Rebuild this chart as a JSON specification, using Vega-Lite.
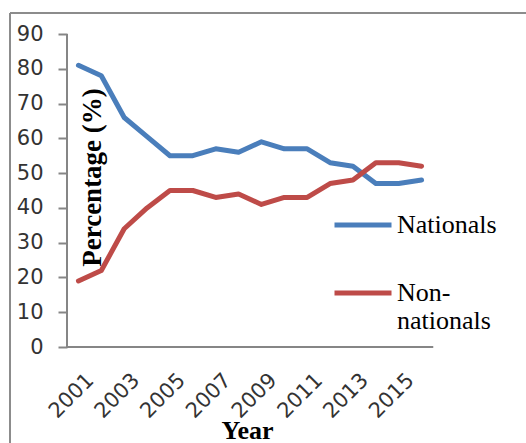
{
  "$schema": "https://vega.github.io/schema/vega-lite/v6.json",
  "autosize": {"type": "none"},
  "padding": {"left": 10, "top": 13, "right": 0, "bottom": 0},
  "width": 516,
  "height": 430,
  "background": "white",
  "config": {"view": {"stroke": null}},
  "data": {"values": [
    {"year": 2001, "group": "Nationals", "value": 81},
    {"year": 2002, "group": "Nationals", "value": 78},
    {"year": 2003, "group": "Nationals", "value": 66},
    {"year": 2004, "group": "Nationals", "value": 60.5},
    {"year": 2005, "group": "Nationals", "value": 55},
    {"year": 2006, "group": "Nationals", "value": 55},
    {"year": 2007, "group": "Nationals", "value": 57},
    {"year": 2008, "group": "Nationals", "value": 56},
    {"year": 2009, "group": "Nationals", "value": 59},
    {"year": 2010, "group": "Nationals", "value": 57},
    {"year": 2011, "group": "Nationals", "value": 57},
    {"year": 2012, "group": "Nationals", "value": 53},
    {"year": 2013, "group": "Nationals", "value": 52},
    {"year": 2014, "group": "Nationals", "value": 47},
    {"year": 2015, "group": "Nationals", "value": 47},
    {"year": 2016, "group": "Nationals", "value": 48},
    {"year": 2001, "group": "Non-nationals", "value": 19},
    {"year": 2002, "group": "Non-nationals", "value": 22},
    {"year": 2003, "group": "Non-nationals", "value": 34},
    {"year": 2004, "group": "Non-nationals", "value": 40},
    {"year": 2005, "group": "Non-nationals", "value": 45},
    {"year": 2006, "group": "Non-nationals", "value": 45},
    {"year": 2007, "group": "Non-nationals", "value": 43},
    {"year": 2008, "group": "Non-nationals", "value": 44},
    {"year": 2009, "group": "Non-nationals", "value": 41},
    {"year": 2010, "group": "Non-nationals", "value": 43},
    {"year": 2011, "group": "Non-nationals", "value": 43},
    {"year": 2012, "group": "Non-nationals", "value": 47},
    {"year": 2013, "group": "Non-nationals", "value": 48},
    {"year": 2014, "group": "Non-nationals", "value": 53},
    {"year": 2015, "group": "Non-nationals", "value": 53},
    {"year": 2016, "group": "Non-nationals", "value": 52}
  ]},
  "layer": [
    {
      "mark": {"type": "rule", "color": "#8c8c8c", "strokeWidth": 1.5},
      "encoding": {
        "x": {"datum": 1998.008, "type": "quantitative"},
        "y": {"datum": -27.6, "type": "quantitative"},
        "y2": {"datum": 96.04}
      }
    },
    {
      "mark": {"type": "rule", "color": "#8c8c8c", "strokeWidth": 1.5},
      "encoding": {
        "y": {"datum": 96.04, "type": "quantitative"},
        "x": {"datum": 1998.008, "type": "quantitative"},
        "x2": {"datum": 2020.565}
      }
    },
    {
      "mark": {"type": "rule", "color": "#868686", "strokeWidth": 2},
      "encoding": {
        "y": {"datum": 0, "type": "quantitative"},
        "x": {"datum": 2000.5, "type": "quantitative"},
        "x2": {"datum": 2016.5}
      }
    },
    {
      "mark": {"type": "rule", "color": "#868686", "strokeWidth": 2},
      "encoding": {
        "x": {"datum": 2000.5, "type": "quantitative"},
        "y": {"datum": 0, "type": "quantitative"},
        "y2": {"datum": 90}
      }
    },
    {
      "mark": {"type": "line", "strokeWidth": 5, "strokeJoin": "round", "strokeCap": "round"},
      "encoding": {
        "x": {
          "field": "year", "type": "quantitative",
          "scale": {"domain": [1998.008, 2020.565], "nice": false, "zero": false},
          "axis": {
            "values": [2001, 2003, 2005, 2007, 2009, 2011, 2013, 2015],
            "format": "d", "labelAngle": -45, "ticks": false, "domain": false, "grid": false,
            "offset": -96, "labelFont": "DejaVu Sans", "labelFontSize": 21, "labelColor": "#333333",
            "labelPadding": 22, "labelOffset": 4, "labelFlush": false, "labelOverlap": false,
            "title": "Year", "titleFont": "Liberation Serif", "titleFontSize": 26, "titleFontWeight": "bold",
            "titleColor": "black", "titleX": 237, "titleY": 91, "titleAlign": "center", "titleBaseline": "alphabetic"
          }
        },
        "y": {
          "field": "value", "type": "quantitative",
          "scale": {"domain": [-27.6, 96.04], "nice": false, "zero": false},
          "axis": {
            "values": [0, 10, 20, 30, 40, 50, 60, 70, 80, 90],
            "domain": false, "grid": false, "offset": -57,
            "tickSize": 9, "tickColor": "#868686", "tickWidth": 2,
            "labelFont": "DejaVu Sans", "labelFontSize": 21, "labelColor": "#333333", "labelPadding": 15,
            "labelFlush": false, "labelOverlap": false,
            "title": "Percentage (%)", "titleFont": "Liberation Serif", "titleFontSize": 27, "titleFontWeight": "bold",
            "titleColor": "black", "titleX": 25, "titleY": 164, "titleAngle": -90, "titleAlign": "center", "titleBaseline": "middle"
          }
        },
        "color": {
          "field": "group", "type": "nominal",
          "scale": {"domain": ["Nationals", "Non-nationals"], "range": ["#4A7EBB", "#BE4B48"]},
          "legend": {
            "orient": "none", "legendX": 322, "legendY": 181, "title": null,
            "symbolType": "stroke", "symbolSize": 3249, "symbolStrokeWidth": 5,
            "labelFont": "Liberation Serif", "labelFontSize": 26, "labelColor": "black", "labelLimit": 0,
            "labelOffset": 3, "rowPadding": 24, "labelBaseline": "middle",
            "labelExpr": "datum.label == 'Non-nationals' ? ['Non-', 'nationals'] : datum.label"
          }
        }
      }
    }
  ]
}
